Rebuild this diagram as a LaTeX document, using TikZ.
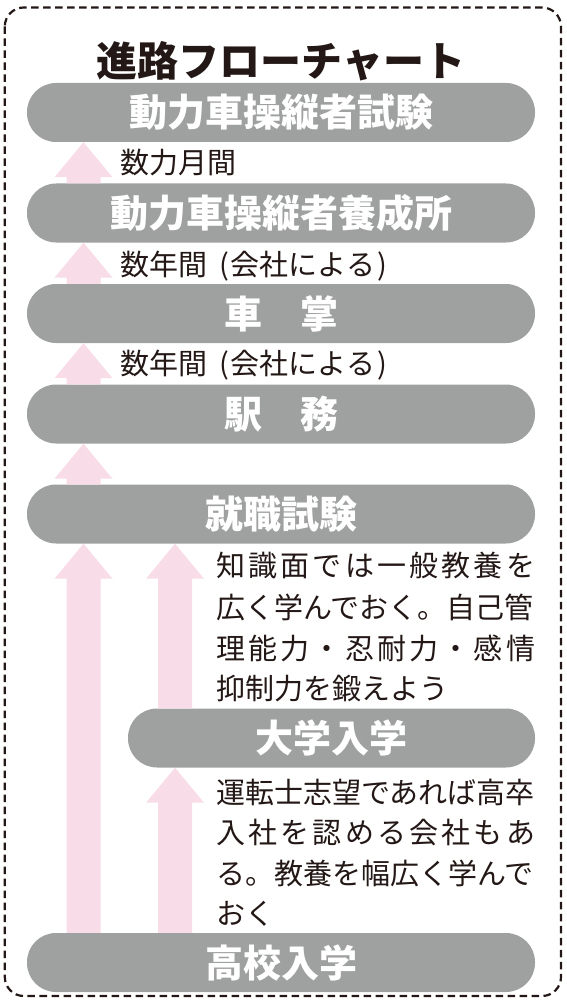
\documentclass[tikz,border=0pt]{standalone}
\usepackage{fontspec}
\usetikzlibrary{calc}
\newfontfamily\jp{Noto Sans CJK JP}
\definecolor{ink}{HTML}{231815}
\definecolor{bargray}{HTML}{9FA0A0}
\definecolor{arrowpink}{HTML}{F8DCE7}
\def\spreadrest#1{\ifx#1\relax\else\hfill#1\expandafter\spreadrest\fi}
\def\spreadfirst#1{#1\spreadrest}
\newcommand\spreadline[2]{\makebox[#1][s]{\spreadfirst#2\relax}}
\newcommand\blockarrow[3]{%
  \path let \p1=(#1 |- #2), \p2=(#1 |- #3) in
    [fill=arrowpink] (\x1,\y1) -- (\x1+29pt,\y1-35pt) -- (\x1+17pt,\y1-35pt)
    -- (\x1+17pt,\y2) -- (\x1-17pt,\y2) -- (\x1-17pt,\y1-35pt)
    -- (\x1-29pt,\y1-35pt) -- cycle;}
\begin{document}
\begin{tikzpicture}[x=1pt,y=-1pt,
  bar/.style={rectangle, rounded corners=29pt, fill=bargray, text=white,
    minimum height=59pt, minimum width=508pt, inner sep=0pt,
    font=\jp\bfseries\fontsize{38}{38}\selectfont},
  body/.style={font=\jp\fontsize{29}{29}\selectfont, text=ink, anchor=base west, inner sep=0pt},
  titlestyle/.style={font=\jp\bfseries\fontsize{41}{41}\selectfont, text=ink, inner sep=0pt, anchor=base}]
\useasboundingbox (0,0) rectangle (566,1003);
\draw[ink, line width=2.2pt, dash pattern=on 7.5pt off 4.5pt, rounded corners=19pt] (4.8,7.5) rectangle (561,996);

\node[titlestyle] (title) at (281,77) {進路フローチャート};

\node[bar] (b1) at (281,112.5) {動力車操縦者試験};
\node[bar] (b2) at (281,213) {動力車操縦者養成所};
\node[bar] (b3) at (281,313.5) {車　掌};
\node[bar] (b4) at (281,414) {駅　務};
\node[bar] (b5) at (281,514) {就職試験};
\node[bar, minimum width=407pt] (b6) at (331.5,738) {大学入学};
\node[bar] (b7) at (281,962.5) {高校入学};

\coordinate (xa) at (83.5,0);
\coordinate (xb) at (175,0);
\blockarrow{xa}{b1.south}{b2.north}
\blockarrow{xa}{b2.south}{b3.north}
\blockarrow{xa}{b3.south}{b4.north}
\blockarrow{xa}{b4.south}{b5.north}
\blockarrow{xa}{b5.south}{b7.north}
\blockarrow{xb}{b5.south}{b6.north}
\blockarrow{xb}{b6.south}{b7.north}

\node[body] (t1) at (120,174) {数力月間};
\node[body] (t2) at (120,275) {数年間\hspace{12pt}(\hspace{2pt}会社による\hspace{2pt})};
\node[body] (t3) at (120,374) {数年間\hspace{12pt}(\hspace{2pt}会社による\hspace{2pt})};

\node[body] (n1a) at (216,576) {\spreadline{319pt}{知識面では一般教養を}};
\node[body] (n1b) at (216,618) {広く学んでおく。自己管};
\node[body] (n1c) at (216,659) {\spreadline{319pt}{理能力・忍耐力・感情}};
\node[body] (n1d) at (216,699) {抑制力を鍛えよう};

\node[body] (n2a) at (216,803) {運転士志望であれば高卒};
\node[body] (n2b) at (216,843) {\spreadline{319pt}{入社を認める会社もあ}};
\node[body] (n2c) at (216,884) {る。教養を幅広く学んで};
\node[body] (n2d) at (216,924) {おく};
\end{tikzpicture}
\end{document}
